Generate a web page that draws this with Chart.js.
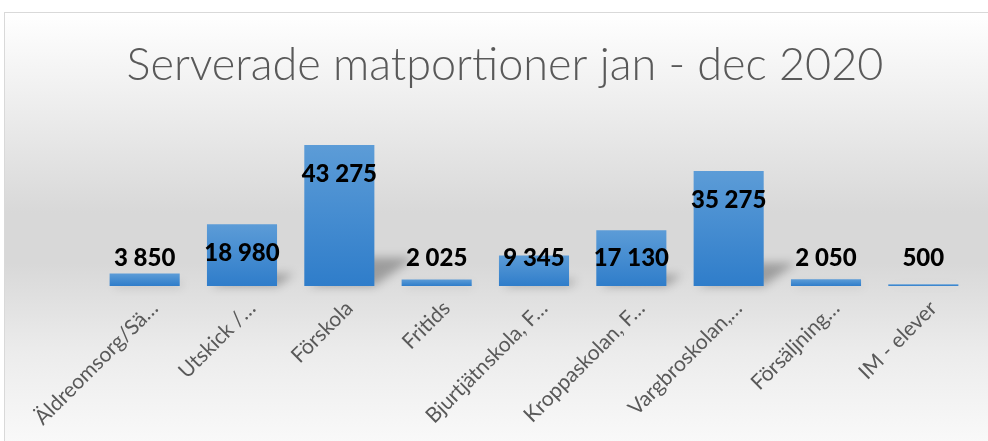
<!DOCTYPE html>
<html>
<head>
<meta charset="utf-8">
<script src="https://cdn.jsdelivr.net/npm/chart.js@4"></script>
<style>
  html, body { margin: 0; padding: 0; background: #fff; overflow: hidden; width: 988px; height: 441px; }
  #frame {
    position: absolute; left: 4px; top: 12px; width: 1100px; height: 500px;
    border-left: 1px solid #d9d9d9; border-top: 1px solid #d9d9d9;
    background: linear-gradient(to bottom, #ffffff 0px, #ececec 100px, #d8d8d8 200px, #d8d8d8 250px, #ececec 340px, #f9f9f9 429px);
  }
  #chart { position: absolute; left: 0; top: 0; }
</style>
</head>
<body>
<div id="frame"></div>
<canvas id="chart" width="988" height="441"></canvas>
<script>
// kategorier och värden (serverade portioner 2020)
const categories = [
  'Äldreomsorg/Sä…', 'Utskick /…', 'Förskola', 'Fritids', 'Bjurtjätnskola, F…',
  'Kroppaskolan, F…', 'Vargbroskolan,…', 'Försäljning…', 'IM - elever'
];
const portions = [3850, 18980, 43275, 2025, 9345, 17130, 35275, 2050, 500];
const yTicks = [0, 50000];

const fmt = v => String(v).replace(/\B(?=(\d{3})+(?!\d))/g, ' ');

// perspektivskugga bakom staplarna
const shadowPlugin = {
  id: 'barShadow',
  beforeDatasetsDraw(chart) {
    const ctx = chart.ctx;
    chart.getDatasetMeta(0).data.forEach(bar => {
      const h = bar.base - bar.y;
      const w = bar.width;
      const left = bar.x - w / 2;
      ctx.save();
      ctx.filter = 'blur(5px)';
      ctx.fillStyle = 'rgba(0,0,0,0.28)';
      ctx.beginPath();
      ctx.moveTo(left + 4, bar.base);
      ctx.lineTo(left + w, bar.base);
      ctx.lineTo(left + w + h * 0.28, bar.base - h * 0.2);
      ctx.lineTo(left + 4 + h * 0.28, bar.base - h * 0.2);
      ctx.closePath();
      ctx.fill();
      ctx.restore();
    });
  }
};

// värdeetiketter i fetstil
const labelPlugin = {
  id: 'valueLabels',
  afterDatasetsDraw(chart) {
    const ctx = chart.ctx;
    ctx.save();
    ctx.font = '900 24px Lato';
    ctx.fillStyle = '#000';
    ctx.textAlign = 'center';
    ctx.textBaseline = 'middle';
    chart.getDatasetMeta(0).data.forEach((bar, i) => {
      const y = Math.min(bar.y + 29, bar.base - 28);
      ctx.fillText(fmt(portions[i]), bar.x, y);
    });
    ctx.restore();
  }
};

new Chart(document.getElementById('chart'), {
  type: 'bar',
  data: {
    labels: categories,
    datasets: [{
      data: portions,
      backgroundColor: (c) => {
        const chart = c.chart;
        const ys = chart.scales.y;
        if (!ys || c.raw == null) return '#4a8fd3';
        const top = ys.getPixelForValue(c.raw);
        const bottom = ys.getPixelForValue(0);
        if (!Number.isFinite(top) || !Number.isFinite(bottom)) return '#4a8fd3';
        const g = chart.ctx.createLinearGradient(0, top, 0, bottom);
        g.addColorStop(0, '#5c9cd7');
        g.addColorStop(1, '#2f7dca');
        return g;
      },
      borderWidth: 0,
      barPercentage: 0.72,
      categoryPercentage: 1
    }]
  },
  options: {
    responsive: false,
    animation: false,
    layout: { padding: { left: 38, right: 16, top: 0, bottom: 0 } },
    plugins: {
      legend: { display: false },
      tooltip: { enabled: false },
      title: {
        display: true,
        text: 'Serverade matportioner jan - dec 2020',
        color: '#595959',
        font: { family: 'Lato', size: 45, weight: '300', lineHeight: 1.2 },
        padding: { top: 38, bottom: 31 }
      }
    },
    scales: {
      x: {
        grid: { display: false },
        border: { display: false },
        ticks: {
          color: '#595959',
          font: { family: 'Lato', size: 21 },
          maxRotation: 45, minRotation: 45,
          padding: 2,
          labelOffset: 10,
          autoSkip: false
        },
        afterFit: (s) => { s.height = 155; }
      },
      y: {
        min: yTicks[0],
        max: yTicks[yTicks.length - 1],
        grid: { display: false },
        border: { display: false },
        ticks: { display: false },
        afterFit: (s) => { s.width = 58; }
      }
    }
  },
  plugins: [shadowPlugin, labelPlugin]
});
</script>
</body>
</html>
